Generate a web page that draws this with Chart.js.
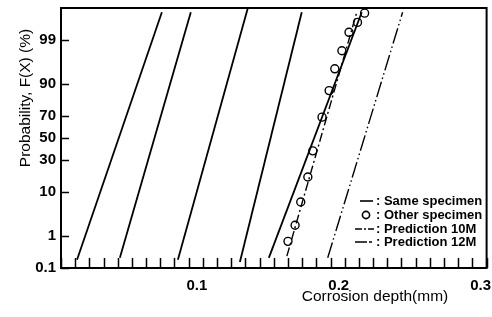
<!DOCTYPE html>
<html>
<head>
<meta charset="utf-8">
<script src="https://cdn.jsdelivr.net/npm/chart.js@4.4.1/dist/chart.umd.min.js"></script>
<style>
html, body { margin: 0; padding: 0; background: #fff; }
#wrap { position: relative; width: 492px; height: 317px; }
</style>
</head>
<body>
<div id="wrap"><canvas id="chart" width="492" height="317"></canvas></div>
<script>
// probability axis (normal probability paper), F in %
const yTicks = [0.1, 1, 10, 30, 50, 70, 90, 99];
const yTickLabels = ['0.1', '1', '10', '30', '50', '70', '90', '99'];
const xMajor = [0.1, 0.2, 0.3];
const xTickLabels = ['0.1', '0.2', '0.3'];

// same specimen fitted lines: lower / upper ends (depth mm, F %)
const sameLowDepth  = [0.0113, 0.0415, 0.0824, 0.1261, 0.1465];
const sameHighDepth = [0.0711, 0.0915, 0.1317, 0.1697, 0.2120];
const sameLowP  = [0.19, 0.22, 0.19, 0.16, 0.22];
const sameHighP = [99.86, 99.86, 99.9, 99.86, 99.86];

// other specimen points
const otherDepth = [0.160, 0.165, 0.169, 0.174, 0.1775, 0.184, 0.189, 0.193, 0.198, 0.203, 0.209, 0.214];
const otherP     = [0.7, 1.9, 6.4, 17.7, 38, 69, 87, 95, 98.1, 99.4, 99.7, 99.85];

// predictions
const pred10Depth = [0.1592, 0.2085];
const pred10P = [0.25, 99.86];
const pred12Depth = [0.1880, 0.2408];
const pred12P = [0.22, 99.86];

const legendLabels = [': Same specimen', ': Other specimen', ': Prediction 10M', ': Prediction 12M'];

// inverse normal cdf (Acklam)
function probit(p) {
  const a = [-3.969683028665376e+01, 2.209460984245205e+02, -2.759285104469687e+02, 1.383577518672690e+02, -3.066479806614716e+01, 2.506628277459239e+00];
  const b = [-5.447609879822406e+01, 1.615858368580409e+02, -1.556989798598866e+02, 6.680131188771972e+01, -1.328068155288572e+01];
  const c = [-7.784894002430293e-03, -3.223964580411365e-01, -2.400758277161838e+00, -2.549732539343734e+00, 4.374664141464968e+00, 2.938163982698783e+00];
  const d = [7.784695709041462e-03, 3.224671290700398e-01, 2.445134137142996e+00, 3.754408661907416e+00];
  const pl = 0.02425;
  let q, r;
  if (p < pl) {
    q = Math.sqrt(-2 * Math.log(p));
    return (((((c[0]*q+c[1])*q+c[2])*q+c[3])*q+c[4])*q+c[5]) / ((((d[0]*q+d[1])*q+d[2])*q+d[3])*q+1);
  }
  if (p > 1 - pl) {
    q = Math.sqrt(-2 * Math.log(1 - p));
    return -(((((c[0]*q+c[1])*q+c[2])*q+c[3])*q+c[4])*q+c[5]) / ((((d[0]*q+d[1])*q+d[2])*q+d[3])*q+1);
  }
  q = p - 0.5; r = q * q;
  return (((((a[0]*r+a[1])*r+a[2])*r+a[3])*r+a[4])*r+a[5])*q / (((((b[0]*r+b[1])*r+b[2])*r+b[3])*r+b[4])*r+1);
}

const pt = (x, p) => ({ x: x, y: probit(p / 100) });

const datasets = [];
sameLowDepth.forEach((d, i) => {
  datasets.push({
    data: [pt(d, sameLowP[i]), pt(sameHighDepth[i], sameHighP[i])],
    showLine: true, borderColor: '#000', borderWidth: 1.8, pointRadius: 0
  });
});
datasets.push({
  data: [pt(pred10Depth[0], pred10P[0]), pt(pred10Depth[1], pred10P[1])],
  showLine: true, borderColor: '#000', borderWidth: 1.4, borderDash: [9, 3, 2, 3], pointRadius: 0
});
datasets.push({
  data: [pt(pred12Depth[0], pred12P[0]), pt(pred12Depth[1], pred12P[1])],
  showLine: true, borderColor: '#000', borderWidth: 1.4, borderDash: [16, 3, 1.5, 3, 1.5, 3], pointRadius: 0
});
datasets.push({
  data: otherDepth.map((d, i) => pt(d, otherP[i])),
  showLine: false, pointRadius: 4, pointBorderWidth: 1.4,
  pointBorderColor: '#000', pointBackgroundColor: 'rgba(0,0,0,0)'
});

const FONT = 'Liberation Sans, Arial, sans-serif';

const framePlugin = {
  id: 'frame',
  afterDraw(chart) {
    const ctx = chart.ctx;
    const a = chart.chartArea;
    const xs = chart.scales.x, ys = chart.scales.y;
    ctx.save();
    ctx.strokeStyle = '#000';
    ctx.lineWidth = 2;
    ctx.strokeRect(a.left, a.top, a.right - a.left, a.bottom - a.top);

    // inward ticks
    ctx.lineWidth = 1.5;
    ctx.beginPath();
    xs.ticks.forEach(t => {
      const px = Math.round(xs.getPixelForValue(t.value)) + 0.5;
      ctx.moveTo(px, a.bottom);
      ctx.lineTo(px, a.bottom - 10);
    });
    ys.ticks.forEach(t => {
      const py = Math.round(ys.getPixelForValue(t.value)) + 0.5;
      ctx.moveTo(a.left, py);
      ctx.lineTo(a.left + 8, py);
    });
    ctx.stroke();

    // axis titles
    ctx.fillStyle = '#000';
    ctx.font = '15.5px ' + FONT;
    ctx.textAlign = 'center';
    ctx.textBaseline = 'middle';
    ctx.fillText('Corrosion depth(mm)', 375, 297);
    ctx.save();
    ctx.translate(29.5, 98);
    ctx.rotate(-Math.PI / 2);
    ctx.textBaseline = 'alphabetic';
    ctx.fillText('Probability, F(X) (%)', 0, 0);
    ctx.restore();

    // legend
    const rows = [201, 215, 229, 242];
    ctx.font = 'bold 13px ' + FONT;
    ctx.textAlign = 'left';
    ctx.textBaseline = 'middle';
    ctx.lineWidth = 1.6;
    rows.forEach((y, i) => {
      ctx.fillText(legendLabels[i], 376, y + 0.5);
    });
    ctx.beginPath();
    ctx.moveTo(360, rows[0]); ctx.lineTo(373, rows[0]);
    ctx.stroke();
    ctx.beginPath();
    ctx.arc(366, rows[1], 3.6, 0, Math.PI * 2);
    ctx.stroke();
    ctx.setLineDash([7, 2, 2, 2]);
    ctx.beginPath();
    ctx.moveTo(355, rows[2]); ctx.lineTo(374, rows[2]);
    ctx.stroke();
    ctx.setLineDash([12, 2, 3, 2]);
    ctx.beginPath();
    ctx.moveTo(355, rows[3]); ctx.lineTo(374, rows[3]);
    ctx.stroke();
    ctx.restore();
  }
};

new Chart(document.getElementById('chart'), {
  type: 'scatter',
  data: { datasets: datasets },
  options: {
    responsive: false,
    animation: false,
    events: [],
    layout: { padding: { left: 0, top: 8, right: 5, bottom: 0 } },
    plugins: { legend: { display: false }, tooltip: { enabled: false } },
    scales: {
      x: {
        type: 'linear', min: 0, max: 0.3,
        afterBuildTicks: (scale) => {
          scale.ticks = Array.from({ length: 31 }, (_, i) => ({ value: i / 100 }));
        },
        afterFit: (scale) => { scale.height = 49; scale.paddingLeft = 0; scale.paddingRight = 0; },
        grid: { display: false, drawTicks: false },
        border: { display: true, color: '#000', width: 2 },
        ticks: {
          autoSkip: false, maxRotation: 0, padding: 9, labelOffset: -6,
          color: '#000', font: { family: FONT, size: 15, weight: 'bold' },
          callback: (v) => {
            const k = xMajor.findIndex(m => Math.abs(m - v) < 1e-6);
            return k < 0 ? '' : xTickLabels[k];
          }
        }
      },
      y: {
        type: 'linear', min: probit(0.001), max: probit(0.999),
        afterBuildTicks: (scale) => {
          scale.ticks = yTicks.map(p => ({ value: probit(p / 100) }));
        },
        afterFit: (scale) => { scale.width = 61; scale.paddingTop = 0; scale.paddingBottom = 0; },
        grid: { display: false, drawTicks: false },
        border: { display: true, color: '#000', width: 2 },
        ticks: {
          autoSkip: false, padding: 5,
          color: '#000', font: { family: FONT, size: 15, weight: 'bold' },
          callback: (v, i) => yTickLabels[i]
        }
      }
    }
  },
  plugins: [framePlugin]
});
</script>
</body>
</html>
